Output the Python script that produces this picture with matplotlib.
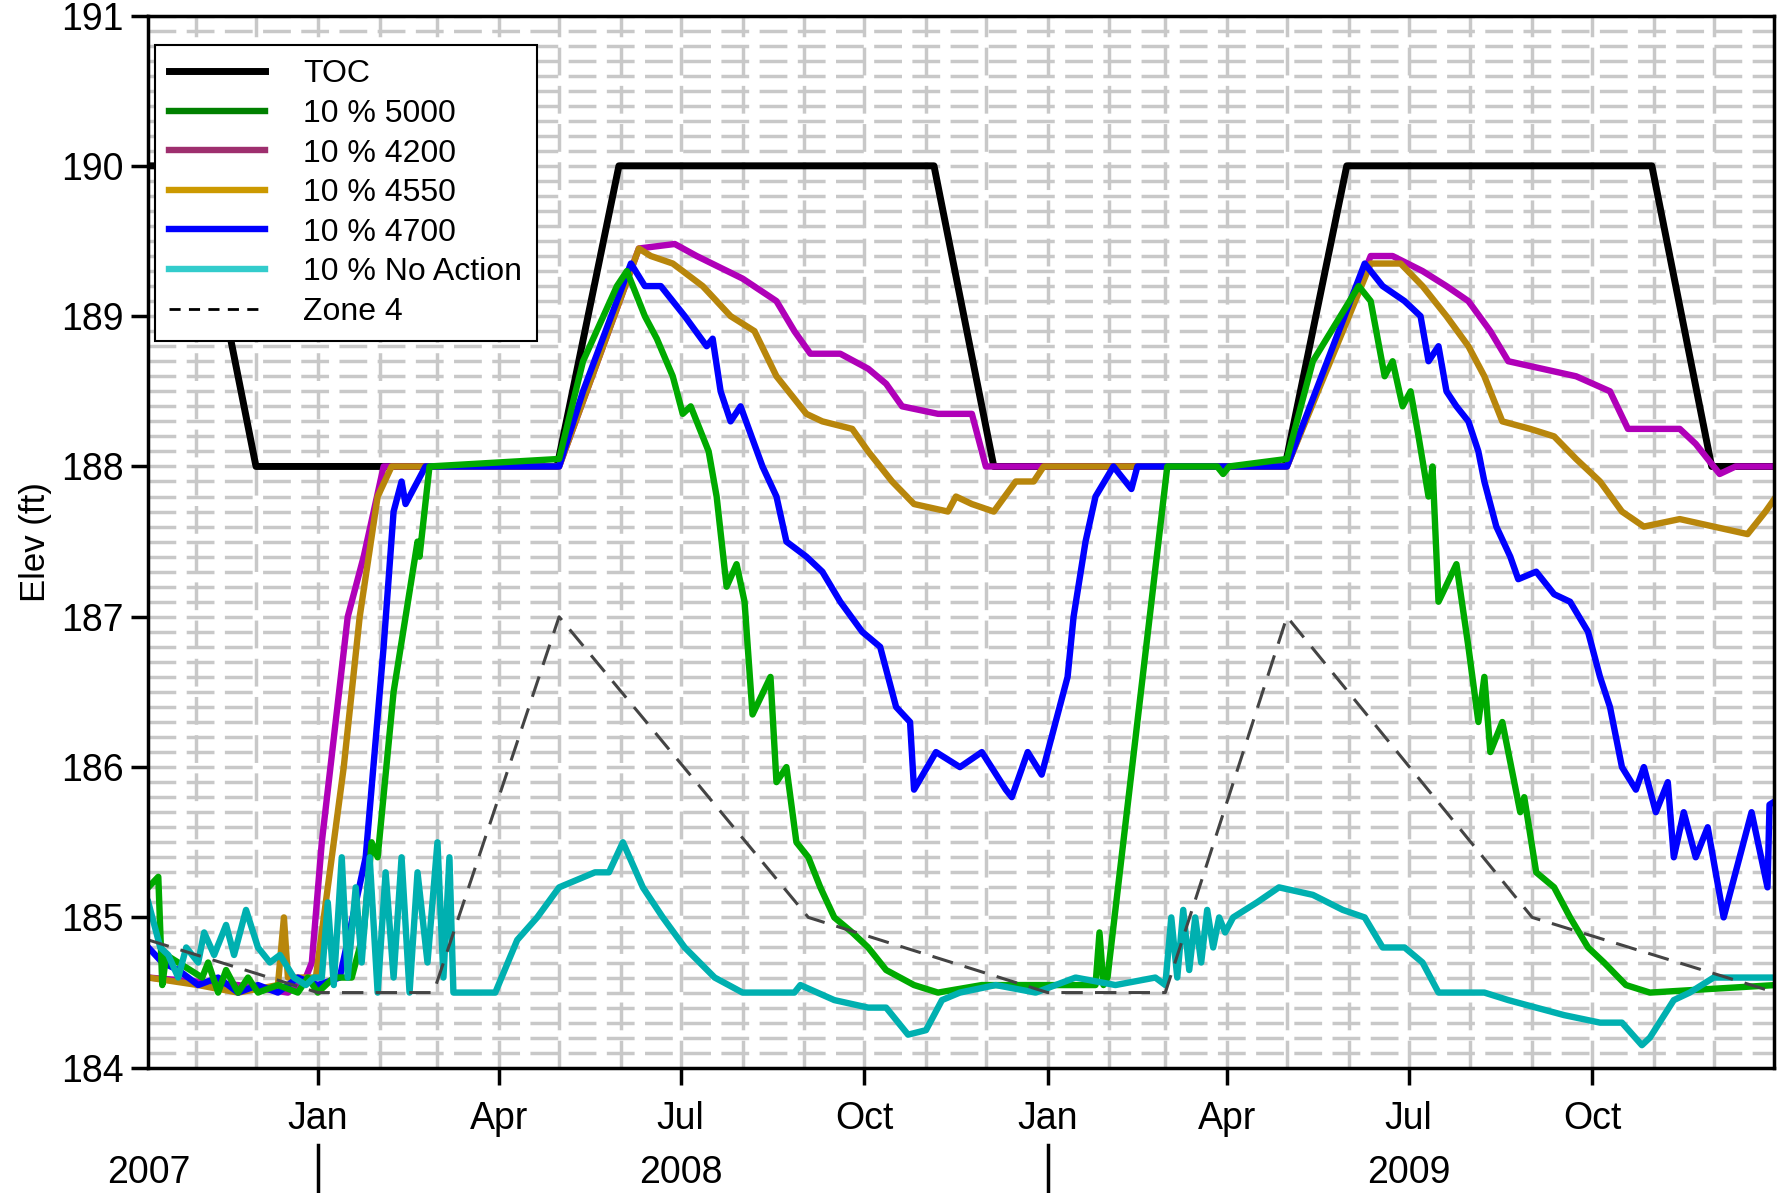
import numpy as np
import pandas as pd
import matplotlib
matplotlib.use('Agg')
import matplotlib.pyplot as plt
import matplotlib.dates as mdates
import matplotlib.transforms as mtransforms

plt.rcParams['font.family'] = ['Liberation Sans', 'DejaVu Sans']

# x values are days since 2008-01-01
toc_d = [-85, -61, -31, 120, 151, 309, 339, 485, 516, 669, 699, 731]
toc_v = [190, 190, 188, 188, 190, 190, 188, 188, 190, 190, 188, 188]

zone_d = [-85, 0, 58, 121, 246, 366, 425, 486, 609, 731]
zone_v = [184.85, 184.5, 184.5, 187.0, 185.0, 184.5, 184.5, 187.0, 185.0, 184.5]

green_d = [-85, -80, -78, -76, -70, -64, -58, -55, -50, -46, -40, -35, -30, -20, -10, -5, 0, 8, 17,
           23, 27, 30, 38, 50, 51, 56, 121, 133, 150, 155, 164, 170, 178, 183, 187, 196, 200, 205,
           210, 214, 218, 227, 230, 235, 240, 246, 252, 259, 268, 276, 285, 299, 311, 333, 390,
           392, 394, 396, 426, 451, 454, 457, 486, 499, 522, 528, 535, 539, 544, 548, 552, 557,
           559, 562, 571, 577, 582, 585, 588, 594, 603, 605, 611, 620, 628, 637, 645, 656, 668, 731]
green_v = [185.2, 185.27, 184.55, 184.75, 184.7, 184.65, 184.6, 184.7, 184.5, 184.65, 184.5, 184.6,
           184.5, 184.55, 184.5, 184.6, 184.5, 184.6, 184.6,
           184.9, 185.5, 185.4, 186.5, 187.5, 187.4, 188.0, 188.05, 188.7, 189.2, 189.3, 189.0,
           188.85, 188.6, 188.35, 188.4, 188.1, 187.8, 187.2, 187.35, 187.1, 186.35, 186.6, 185.9,
           186.0, 185.5, 185.4, 185.2, 185.0, 184.9, 184.8, 184.65, 184.55, 184.5, 184.55, 184.55,
           184.9, 184.55, 184.6, 188.0, 188.0, 187.95, 188.0, 188.05, 188.7, 189.2, 189.1, 188.6,
           188.7, 188.4, 188.5, 188.2, 187.8, 188.0, 187.1, 187.35, 186.8, 186.3, 186.6, 186.1,
           186.3, 185.7, 185.8, 185.3, 185.2, 185.0, 184.8, 184.7, 184.55, 184.5, 184.55]

blue_d = [-85, -78, -70, -60, -50, -40, -30, -20, -10, 0, 11, 24, 33, 38, 42, 44, 54, 121, 133,
          157, 164, 172, 178, 184, 195, 198, 202, 207, 212, 223, 230, 235, 245, 253, 262, 273,
          282, 290, 297, 299, 310, 322, 333, 345, 348, 356, 363, 366, 370, 376, 379, 385, 390,
          399, 408, 411, 486, 525, 534, 545, 553, 557, 562, 566, 571, 577, 582, 585, 591, 598,
          602, 611, 620, 628, 637, 643, 648, 654, 661, 665, 671, 677, 680, 685, 691, 697, 705,
          711, 719, 727, 728, 734]
blue_v = [184.8, 184.7, 184.65, 184.55, 184.6, 184.5, 184.55, 184.5, 184.6, 184.55, 184.6, 185.4,
          186.8, 187.7, 187.9, 187.75, 188.0, 188.0, 188.5,
          189.35, 189.2, 189.2, 189.1, 189.0, 188.8, 188.85, 188.5, 188.3, 188.4, 188.0, 187.8,
          187.5, 187.4, 187.3, 187.1, 186.9, 186.8, 186.4, 186.3, 185.85, 186.1, 186.0, 186.1,
          185.85, 185.8, 186.1, 185.95, 186.1, 186.3, 186.6, 187.0, 187.5, 187.8, 188.0, 187.85,
          188.0, 188.0, 189.35, 189.2, 189.1, 189.0, 188.7, 188.8, 188.5, 188.4, 188.3, 188.1,
          187.9, 187.6, 187.4, 187.25, 187.3, 187.15, 187.1, 186.9, 186.6, 186.4, 186.0, 185.85,
          186.0, 185.7, 185.9, 185.4, 185.7, 185.4, 185.6, 185.0, 185.3, 185.7, 185.2, 185.75, 185.8]

gold_d = [-85, -60, -40, -20, -17, -15, -1, 2, 13, 21, 30, 37, 121, 161, 167, 178, 193, 207, 219,
          230, 245, 253, 268, 276, 288, 299, 316, 320, 328, 339, 350, 359, 364, 366, 399, 486,
          528, 543, 554, 566, 577, 585, 594, 608, 620, 631, 643, 654, 665, 683, 700, 717, 726, 734]
gold_v = [184.6, 184.55, 184.5, 184.55, 185.0, 184.6, 184.6, 184.9, 186.0, 187.0, 187.8, 188.0,
          188.0, 189.45, 189.4, 189.35, 189.2, 189.0, 188.9, 188.6, 188.35, 188.3, 188.25, 188.1,
          187.9, 187.75, 187.7, 187.8, 187.75, 187.7, 187.9, 187.9, 188.0, 188.0, 188.0, 188.0,
          189.35, 189.35, 189.2, 189.0, 188.8, 188.6, 188.3, 188.25, 188.2, 188.05, 187.9, 187.7,
          187.6, 187.65, 187.6, 187.55, 187.7, 187.85]

mag_d = [-85, -40, -15, -6, -3, 2, 15, 23, 33, 121, 161, 179, 190, 213, 230, 239, 247, 262, 276,
         285, 293, 311, 328, 335, 486, 528, 539, 554, 566, 577, 588, 597, 614, 631, 648, 657,
         683, 691, 703, 711, 733]
mag_v = [184.6, 184.55, 184.5, 184.6, 184.7, 185.5, 187.0, 187.4, 188.0, 188.0, 189.45, 189.48,
         189.4, 189.25, 189.1, 188.9, 188.75, 188.75, 188.65, 188.55, 188.4, 188.35, 188.35,
         188.0, 188.0, 189.4, 189.4, 189.3, 189.2, 189.1, 188.9, 188.7, 188.65, 188.6, 188.5,
         188.25, 188.25, 188.15, 187.95, 188.0, 188.0]

cyan_d = [-85, -82, -79, -75, -70, -66, -60, -57, -52, -46, -42, -36, -30, -24, -19, -12, -6, -2,
          2, 5, 8, 12, 15, 19, 22, 26, 30, 34, 38, 42, 46, 50, 55, 60, 63, 66, 68, 89, 100, 110,
          121, 130, 139, 146, 153, 163, 173, 184, 199, 213, 239, 242, 259, 276, 285, 296, 305,
          313, 322, 340, 360, 380, 400, 420, 425, 428, 431, 434, 437, 440, 443, 446, 449, 452,
          455, 459, 471, 482, 499, 514, 525, 534, 545, 554, 562, 585, 597, 611, 625, 643, 654,
          664, 668, 680, 688, 700, 731]
cyan_v = [185.1, 184.95, 184.8, 184.75, 184.6, 184.8, 184.7, 184.9, 184.75, 184.95, 184.75, 185.05,
          184.8, 184.7, 184.75, 184.6, 184.55, 184.6,
          184.6, 185.1, 184.55, 185.4, 184.6, 185.2, 184.7, 185.4, 184.5, 185.3, 184.6, 185.4,
          184.5, 185.3, 184.7, 185.5, 184.6, 185.4, 184.5, 184.5, 184.85, 185.0, 185.2, 185.25,
          185.3, 185.3, 185.5, 185.2, 185.0, 184.8, 184.6, 184.5, 184.5, 184.55, 184.45, 184.4,
          184.4, 184.22, 184.25, 184.45, 184.5, 184.55, 184.5, 184.6, 184.55, 184.6, 184.55,
          185.0, 184.6, 185.05, 184.65, 185.0, 184.7, 185.05, 184.8, 185.0, 184.9, 185.0, 185.1,
          185.2, 185.15, 185.05, 185.0, 184.8, 184.8, 184.7, 184.5, 184.5, 184.45, 184.4, 184.35,
          184.3, 184.3, 184.15, 184.2, 184.45, 184.5, 184.6, 184.6]

base = pd.Timestamp('2008-01-01')
def to_dates(days):
    return base + pd.to_timedelta(np.array(days, dtype=float), unit='D')

fig = plt.figure(figsize=(17.87, 11.93), dpi=100)
ax = fig.add_axes([0.083, 0.105, 0.910, 0.882])

grid_kw = dict(color='#c8c8c8', lw=2.5, ls=(0, (8, 3)), zorder=0)
for y in np.arange(184.1, 191.0, 0.1):
    ax.axhline(y, **grid_kw)
for m in pd.date_range('2007-11-01', '2009-12-01', freq='MS'):
    ax.axvline(m, **grid_kw)

lw = 4.6
ax.plot(to_dates(toc_d), toc_v, color='black', lw=5, label='TOC')
ax.plot(to_dates(mag_d), mag_v, color='#b000b8', lw=lw)
ax.plot(to_dates(gold_d), gold_v, color='#b8860b', lw=lw)
ax.plot(to_dates(blue_d), blue_v, color='#0000ff', lw=lw)
ax.plot(to_dates(green_d), green_v, color='#00aa00', lw=lw)
ax.plot(to_dates(cyan_d), cyan_v, color='#00b0b0', lw=lw)
ax.plot(to_dates(zone_d), zone_v, color='#444444', lw=2.2, ls=(0, (7, 4)))

# legend entries
ax.plot([], [], color='#008000', lw=lw, label='10 % 5000')
ax.plot([], [], color='#9e2f6e', lw=lw, label='10 % 4200')
ax.plot([], [], color='#cc9900', lw=lw, label='10 % 4550')
ax.plot([], [], color='#0000ff', lw=lw, label='10 % 4700')
ax.plot([], [], color='#33cccc', lw=lw, label='10 % No Action')
ax.plot([], [], color='black', lw=2, ls=(0, (4, 3)), label='Zone 4')
h, l = ax.get_legend_handles_labels()
leg = ax.legend(h, l, loc='upper left', bbox_to_anchor=(0.004, 0.972), borderaxespad=0,
                fontsize=23, fancybox=False, edgecolor='black', framealpha=1,
                handlelength=3.0, handletextpad=1.2, labelspacing=0.3, borderpad=0.45)
leg.get_frame().set_linewidth(1.5)

ax.set_xlim(to_dates([-85])[0], to_dates([730.5])[0])
ax.set_ylim(184, 191)
ax.set_yticks(range(184, 192))
ax.set_ylabel('Elev (ft)', fontsize=25, labelpad=6)

ax.xaxis.set_major_locator(mdates.MonthLocator(bymonth=[1, 4, 7, 10]))
ax.xaxis.set_major_formatter(mdates.DateFormatter('%b'))
ax.tick_params(axis='both', which='major', labelsize=27, width=2.5, length=12, direction='out')
ax.tick_params(axis='x', which='major', pad=12)
ax.tick_params(axis='y', which='major', pad=6)
for s in ax.spines.values():
    s.set_linewidth(2.5)

trans = mtransforms.blended_transform_factory(ax.transData, ax.transAxes)
years = ['2007', '2008', '2009']
year_pos = [to_dates([-85])[0], pd.Timestamp('2008-07-01'), pd.Timestamp('2009-07-01')]
for yr, xp in zip(years, year_pos):
    ax.text(xp, -0.1, yr, transform=trans, ha='center', va='center', fontsize=27)
for sep in [pd.Timestamp('2008-01-01'), pd.Timestamp('2009-01-01')]:
    ax.plot([sep, sep], [-0.073, -0.12], transform=trans, color='black', lw=2.5, clip_on=False)

fig.savefig('out.png', dpi=100)
